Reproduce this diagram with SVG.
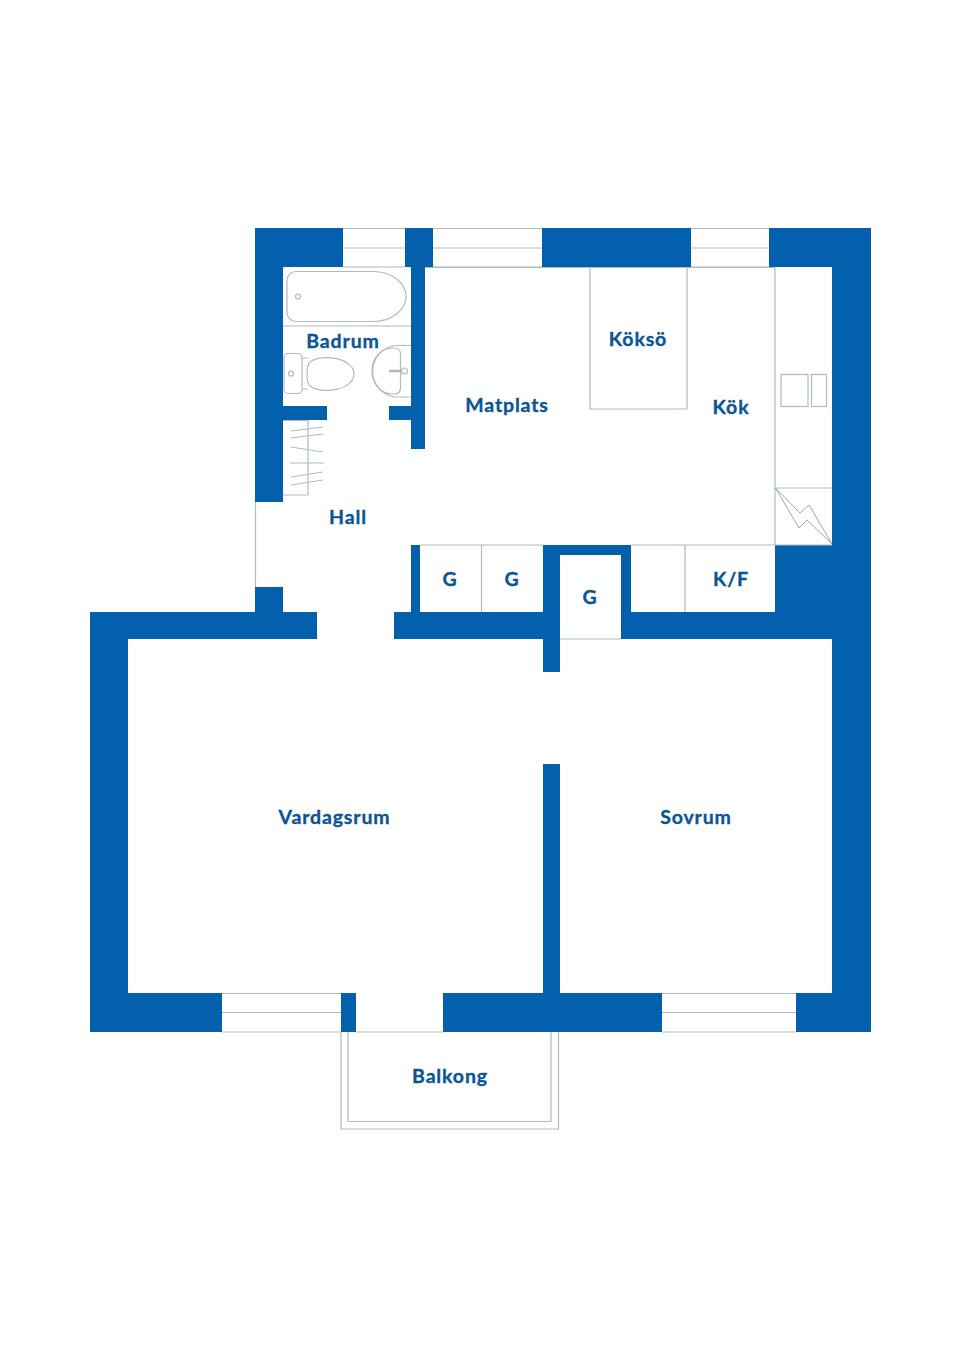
<svg xmlns="http://www.w3.org/2000/svg" width="960" height="1358" viewBox="0 0 960 1358">
<style>
.w{fill:#0360ad}
.l{fill:none;stroke:#aebbc4;stroke-width:1.2}
.t{font-family:"Lato","Inter",sans-serif;font-weight:700;font-size:19.5px;fill:#0c5595;stroke:#0c5595;stroke-width:.35px;text-anchor:middle;letter-spacing:.85px}
</style>
<rect width="960" height="1358" fill="#fff"/>
<g id="walls">
<path class="w" d="M255 228H343V267H283V406H327V420H283V502H255Z"/>
<rect class="w" x="405" y="228" width="28" height="39"/>
<rect class="w" x="542" y="228" width="149" height="39"/>
<rect class="w" x="769" y="228" width="102" height="39"/>
<rect class="w" x="832" y="228" width="39" height="804"/>
<rect class="w" x="796" y="993" width="75" height="39"/>
<rect class="w" x="775" y="545" width="57" height="94"/>
<rect class="w" x="621" y="612" width="211" height="27"/>
<rect class="w" x="621" y="545" width="10" height="94"/>
<path class="w" d="M411 267H425V449H411V420H389V406H411Z"/>
<path class="w" d="M255 587H283V612H317V639H128V993H222V1032H90V612H255Z"/>
<path class="w" d="M411 545H420V612H543V545H631V555H560V672H543V639H394V612H411Z"/>
<rect class="w" x="341" y="993" width="15" height="39"/>
<path class="w" d="M443 993H543V764H560V993H662V1032H443Z"/>
</g>
<g id="windows">
<path class="l" d="M343 228.500H405M343 248H405M343 267H405M433 228.500H542M433 248H542M433 267H542M691 228.500H769M691 248H769M691 267H769"/>
<path class="l" d="M222 993.500H341M222 1012.500H341M222 1032H341M662 993.500H796M662 1012.500H796M662 1032H796M356 1032H443"/>
<path class="l" d="M255.500 502V587M560 639H621"/>
</g>
<g id="badrum">
<path class="l" d="M296 271.500H373A33 25 0 0 1 406 296.500A33 25 0 0 1 373 321.500H296A9 9 0 0 1 287 312.500V280.500A9 9 0 0 1 296 271.500Z"/>
<circle class="l" cx="298" cy="296.500" r="2.500"/>
<path class="l" d="M283 326H411"/>
<path class="l" d="M411 345.500H395A26 26 0 0 0 395 397H411"/>
<path class="l" d="M394 348H392A20 23 0 0 0 392 394H394Q400.500 394 400.500 388V354Q400.500 348 394 348Z"/>
<path d="M389 371H401" fill="none" stroke="#aebbc4" stroke-width="2.500"/>
<circle cx="404.500" cy="371" r="3" fill="#fff" stroke="#aebbc4" stroke-width="1.200"/>
<rect class="l" x="284" y="353.500" width="18" height="40" rx="4"/>
<circle class="l" cx="291" cy="373.500" r="2.500"/>
<path class="l" d="M302 358H308M302 389H308M310 362C322 353 354 358 354 374C354 390 322 395 310 386C306 382 306 366 310 362Z"/>
</g>
<g id="garderob">
<path class="l" d="M283 420.500H308V495H283"/>
<path class="l" d="M291 431L323 427M291 438L323 434M291 447L323 452M290 463L324 463M291 477L323 472M291 485L323 480"/>
</g>
<g id="kok">
<path class="l" d="M425 267.500H775V545M590 267.500V409H687V267.500"/>
<path class="l" d="M775 488H832M775 545H832"/>
<rect class="l" x="781" y="374.500" width="27" height="32"/>
<rect class="l" x="811.500" y="374.500" width="15" height="32"/>
<path d="M775.500 488L800 513L809 505L832 544L807 520L799 528Z" fill="none" stroke="#8e9ca6" stroke-width=".9"/>
</g>
<g id="skap">
<path class="l" d="M420 545H543M631 545H775M481.500 545V612M685 545V612"/>
</g>
<g id="balkong">
<path class="l" d="M341 1032V1129H558.500V1032M348 1032V1121.500H551V1032"/>
</g>
<g id="labels">
<text class="t" x="343" y="348">Badrum</text>
<text class="t" x="638" y="346">Köksö</text>
<text class="t" x="507" y="412">Matplats</text>
<text class="t" x="731" y="414">Kök</text>
<text class="t" x="348" y="524">Hall</text>
<text class="t" x="450" y="586">G</text>
<text class="t" x="512" y="586">G</text>
<text class="t" x="590" y="604">G</text>
<text class="t" x="731" y="586">K/F</text>
<text class="t" x="334.500" y="824">Vardagsrum</text>
<text class="t" x="696" y="824">Sovrum</text>
<text class="t" x="450" y="1083">Balkong</text>
</g>
</svg>
